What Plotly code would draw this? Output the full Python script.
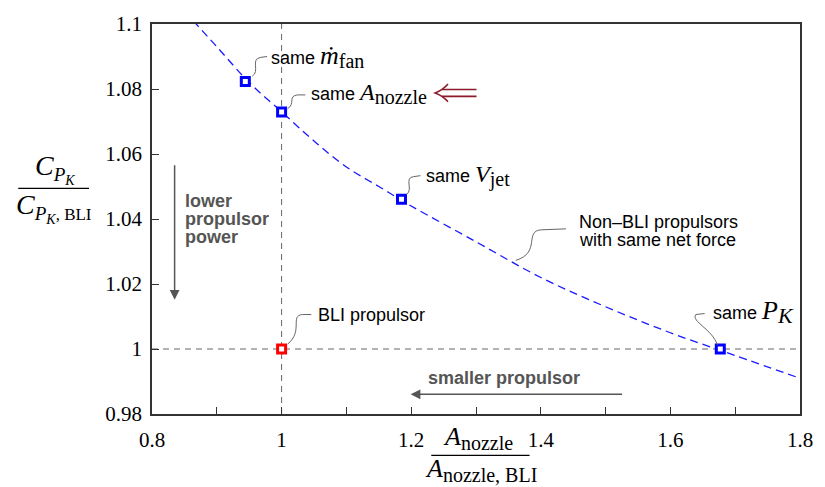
import plotly.graph_objects as go

# ---------------- data ----------------
curve_x = [0.85, 0.90, 0.95, 1.00, 1.05, 1.10, 1.15, 1.20, 1.30, 1.40, 1.50, 1.60, 1.70, 1.80]
curve_y = [1.104, 1.093, 1.082, 1.073, 1.064, 1.056, 1.050, 1.044, 1.033, 1.022, 1.013, 1.005, 0.998, 0.991]

pts_x = [0.944, 1.000, 1.185, 1.677]
pts_y = [1.0823, 1.0729, 1.0461, 1.000]

bli_x = [1.0]
bli_y = [1.0]

ref_x = 1.0
ref_y = 1.0

x_ticks = [0.8, 0.9, 1.0, 1.1, 1.2, 1.3, 1.4, 1.5, 1.6, 1.7, 1.8]
x_tick_text = ["0.8", "", "1", "", "1.2", "", "1.4", "", "1.6", "", "1.8"]
y_ticks = [0.98, 1.00, 1.02, 1.04, 1.06, 1.08, 1.10]
y_tick_text = ["0.98", "1", "1.02", "1.04", "1.06", "1.08", "1.1"]

# ---------------- layout helpers ----------------
W, H = 825, 487
L, R, T, B = 152, 14, 18, 73
PW, PH = W - L - R, H - T - B


def px(x):
    return (x - L) / PW


def py(y):
    return (H - B - y) / PH


SERIF = "Liberation Serif"
SANS = "Liberation Sans"
GREY = "#555555"
LEADER = "#666666"
DARKRED = "#8b1a2a"

fig = go.Figure()

fig.add_trace(go.Scatter(
    x=curve_x, y=curve_y, mode="lines", line=dict(color="#1a1aff", width=1.3, dash="8px,5px", shape="spline"),
    hoverinfo="skip", showlegend=False))

fig.add_trace(go.Scatter(
    x=pts_x, y=pts_y, mode="markers",
    marker=dict(symbol="square", size=8, color="white", line=dict(color="#0000ff", width=3)),
    showlegend=False))

fig.add_trace(go.Scatter(
    x=bli_x, y=bli_y, mode="markers",
    marker=dict(symbol="square", size=8, color="white", line=dict(color="#ff0000", width=3)),
    showlegend=False))

shapes = []
# reference dashed lines
shapes.append(dict(type="line", xref="x", yref="paper", x0=ref_x, x1=ref_x, y0=0, y1=1,
                   line=dict(color="#666666", width=1, dash="6px,5px"), layer="below"))
shapes.append(dict(type="line", xref="paper", yref="y", x0=0, x1=1, y0=ref_y, y1=ref_y,
                   line=dict(color="#666666", width=1, dash="6px,5px"), layer="below"))


def leader(pts):
    (x0, y0), (c1x, c1y), (c2x, c2y), (x1, y1), (x2, y2) = pts
    path = "M {} {} C {} {}, {} {}, {} {} L {} {}".format(
        px(x0), py(y0), px(c1x), py(c1y), px(c2x), py(c2y), px(x1), py(y1), px(x2), py(y2))
    shapes.append(dict(type="path", xref="paper", yref="paper", path=path,
                       line=dict(color=LEADER, width=1)))


# curvy leader lines (pixel coords)
leader([(254, 71), (262, 66), (252, 54), (262, 52), (269, 51)])      # m_fan
leader([(290, 104), (298, 99), (290, 91), (300, 90), (308, 90)])     # A_nozzle
leader([(411, 191), (418, 186), (408, 174), (418, 173), (425, 172)]) # V_jet
leader([(522, 258), (548, 250), (530, 228), (548, 227), (573, 226)]) # non-BLI
leader([(727, 344), (722, 328), (700, 320), (705, 313), (714, 312)]) # P_K
leader([(290, 343), (306, 330), (292, 314), (305, 313), (314, 313)]) # BLI

# double arrow (long leftwards double arrow)
shapes.append(dict(type="path", xref="paper", yref="paper",
                   path="M {} {} Q {} {} {} {} Q {} {} {} {}".format(
                       px(453), py(79), px(448), py(85), px(440), py(88),
                       px(448), py(91), px(453), py(97)),
                   line=dict(color=DARKRED, width=1.6)))
for yy in (84.5, 91.5):
    shapes.append(dict(type="line", xref="paper", yref="paper", x0=px(447), x1=px(482), y0=py(yy), y1=py(yy),
                       line=dict(color=DARKRED, width=1.6)))

# fraction bars for axis titles
shapes.append(dict(type="line", xref="paper", yref="paper", x0=px(16), x1=px(88), y0=py(185), y1=py(185),
                   line=dict(color="black", width=1.2)))
shapes.append(dict(type="line", xref="paper", yref="paper", x0=px(436), x1=px(536), y0=py(456), y1=py(456),
                   line=dict(color="black", width=1.2)))

ann = []


def text(x, y, s, size=18, family=SANS, color="black", xanchor="left"):
    ann.append(dict(xref="paper", yref="paper", x=px(x), y=py(y), text=s, showarrow=False,
                    xanchor=xanchor, yanchor="middle", font=dict(family=family, size=size, color=color)))


def m(s, size=24):
    return "<span style='font-family:{};font-size:{}px'>{}</span>".format(SERIF, size, s)


def sub(s, size=20):
    return "<sub><span style='font-family:{};font-size:{}px'>{}</span></sub>".format(SERIF, size, s)


text(271, 51, "same " + m("<i>ṁ</i>", 26) + sub("fan"))
text(312, 89, "same " + m("<i>A</i>") + sub("nozzle"))
text(429, 172, "same " + m("<i>V</i>") + sub("jet"))
text(720, 310, "same " + m("<i>P</i>", 26) + sub("<i>K</i>", 22))
text(319, 313, "BLI propulsor")
text(584, 219, "Non\u2013BLI propulsors")
text(584, 237, "with same net force")

for yy, word in zip((198, 216, 234), ("lower", "propulsor", "power")):
    text(184, yy, "<b>" + word + "</b>", size=18, color=GREY)
text(431, 377, "<b>smaller propulsor</b>", size=18, color=GREY)

# arrows (head at x,y; tail offset in pixels)
ann.append(dict(xref="paper", yref="paper", x=px(175), y=py(298), ax=0, ay=162 - 298,
                axref="pixel", ayref="pixel", text="", showarrow=True, arrowhead=2, arrowsize=1.3,
                arrowwidth=1.5, arrowcolor=GREY))
ann.append(dict(xref="paper", yref="paper", x=px(415), y=py(394), ax=628 - 415, ay=0,
                axref="pixel", ayref="pixel", text="", showarrow=True, arrowhead=2, arrowsize=1.3,
                arrowwidth=1.5, arrowcolor=GREY))


# axis titles as fractions
def span(s, size):
    return "<span style='font-size:{}px'>{}</span>".format(size, s)


ynum = "<i>C</i><sub>" + span("<i>P</i>", 19) + "<sub>" + span("<i>K</i>", 14) + "</sub></sub>"
yden = "<i>C</i><sub>" + span("<i>P</i>", 19) + "<sub>" + span("<i>K</i>", 14) + "</sub>" + span(", BLI", 17) + "</sub>"
text(53, 165, ynum, size=28, family=SERIF, xanchor="center")
text(52, 205, yden, size=28, family=SERIF, xanchor="center")
text(484, 438, "<i>A</i>" + sub("nozzle"), size=26, family=SERIF, xanchor="center")
text(487, 471, "<i>A</i>" + sub("nozzle, BLI"), size=26, family=SERIF, xanchor="center")

axis_common = dict(showgrid=False, zeroline=False, showline=True, linecolor="#333333", linewidth=1.5,
                   mirror=True, ticks="inside", ticklen=7, tickcolor="#333333", tickwidth=1,
                   tickfont=dict(family=SERIF, size=21, color="black"))

fig.update_layout(
    width=W, height=H, margin=dict(l=L, r=R, t=T, b=B),
    plot_bgcolor="white", paper_bgcolor="white",
    xaxis=dict(range=[0.8, 1.8], tickvals=x_ticks, ticktext=x_tick_text, ticklabelstandoff=6, **axis_common),
    yaxis=dict(range=[0.98, 1.1], tickvals=y_ticks, ticktext=y_tick_text, ticklabelstandoff=4, **axis_common),
    shapes=shapes, annotations=ann, showlegend=False,
)

fig.write_html("out.html")
